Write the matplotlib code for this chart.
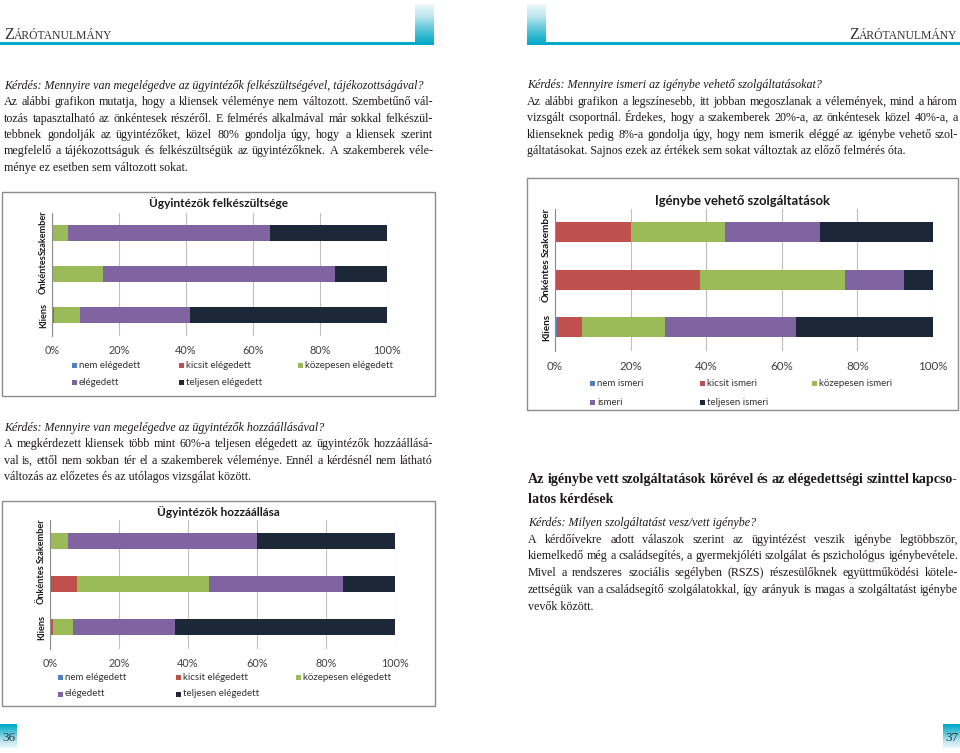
import numpy as np
import matplotlib
matplotlib.use('Agg')
import matplotlib.pyplot as plt
from matplotlib import font_manager
from matplotlib.patches import Rectangle
from matplotlib.colors import LinearSegmentedColormap

W, H = 960, 753

groups = ['Kliens', 'Önkéntes', 'Szakember']
colors = ['#4F81BD', '#C0504D', '#9BBB59', '#8064A2', '#1C2837']

# Ügyintézők felkészültsége (%), order: Kliens, Önkéntes, Szakember
elegedett_labels = ['nem elégedett', 'kicsit elégedett', 'közepesen elégedett', 'elégedett', 'teljesen elégedett']
felk_nem = [0.0, 0.0, 0.0]
felk_kicsit = [0.7, 0.0, 0.0]
felk_kozepes = [7.6, 15.3, 4.8]
felk_eleg = [32.8, 69.3, 60.2]
felk_teljes = [58.9, 15.4, 35.0]

# Igénybe vehető szolgáltatások (%)
ismeri_labels = ['nem ismeri', 'kicsit ismeri', 'közepesen ismeri', 'ismeri', 'teljesen ismeri']
igeny_nem = [0.4, 0.0, 0.0]
igeny_kicsit = [6.7, 38.4, 20.1]
igeny_kozepes = [21.9, 38.4, 24.9]
igeny_ism = [34.8, 15.5, 25.0]
igeny_teljes = [36.2, 7.7, 30.0]

# Ügyintézők hozzáállása (%)
hozz_nem = [0.0, 0.0, 0.0]
hozz_kicsit = [1.0, 7.8, 0.0]
hozz_kozepes = [5.8, 38.4, 5.2]
hozz_eleg = [29.4, 38.6, 54.8]
hozz_teljes = [63.8, 15.2, 40.0]

ticks = [0, 20, 40, 60, 80, 100]

# page text
text_felk = [
    'Kérdés: Mennyire van megelégedve az ügyintézők felkészültségével, tájékozottságával?',
    'Az alábbi grafikon mutatja, hogy a kliensek véleménye nem változott. Szembetűnő vál-',
    'tozás tapasztalható az önkéntesek részéről. E felmérés alkalmával már sokkal felkészül-',
    'tebbnek gondolják az ügyintézőket, közel 80% gondolja úgy, hogy a kliensek szerint',
    'megfelelő a tájékozottságuk és felkészültségük az ügyintézőknek. A szakemberek véle-',
    'ménye ez esetben sem változott sokat.',
]
text_igeny = [
    'Kérdés: Mennyire ismeri az igénybe vehető szolgáltatásokat?',
    'Az alábbi grafikon a legszínesebb, itt jobban megoszlanak a vélemények, mind a három',
    'vizsgált csoportnál. Érdekes, hogy a szakemberek 20%-a, az önkéntesek közel 40%-a, a',
    'klienseknek pedig 8%-a gondolja úgy, hogy nem ismerik eléggé az igénybe vehető szol-',
    'gáltatásokat. Sajnos ezek az értékek sem sokat változtak az előző felmérés óta.',
]
text_hozz = [
    'Kérdés: Mennyire van megelégedve az ügyintézők hozzáállásával?',
    'A megkérdezett kliensek több mint 60%-a teljesen elégedett az ügyintézők hozzáállásá-',
    'val is, ettől nem sokban tér el a szakemberek véleménye. Ennél a kérdésnél nem látható',
    'változás az előzetes és az utólagos vizsgálat között.',
]
heading = ['Az igénybe vett szolgáltatások körével és az elégedettségi szinttel kapcso-',
           'latos kérdések']
text_milyen = [
    'Kérdés: Milyen szolgáltatást vesz/vett igénybe?',
    'A kérdőívekre adott válaszok szerint az ügyintézést veszik igénybe legtöbbször,',
    'kiemelkedő még a családsegítés, a gyermekjóléti szolgálat és pszichológus igénybevétele.',
    'Mivel a rendszeres szociális segélyben (RSZS) részesülőknek együttműködési kötele-',
    'zettségük van a családsegítő szolgálatokkal, így arányuk is magas a szolgáltatást igénybe',
    'vevők között.',
]

fig = plt.figure(figsize=(9.6, 7.53), dpi=100)
pg = fig.add_axes([0, 0, 1, 1])
pg.set_xlim(0, W)
pg.set_ylim(H, 0)
pg.axis('off')
renderer = fig.canvas.get_renderer()

SERIF = 'Liberation Serif'
SANS = 'Lato'
installed = {f.name for f in font_manager.fontManager.ttflist}
NARROW = 'Liberation Sans Narrow' if 'Liberation Sans Narrow' in installed else SANS
INK = '#1E1A1B'
TEAL = '#00A9C8'


def word_widths(words, **kw):
    objs = [pg.text(0, 0, w, **kw) for w in words]
    widths = [o.get_window_extent(renderer).width for o in objs]
    for o in objs:
        o.remove()
    return widths


def fit_size(lines, width, size, **kw):
    # largest size (<= size) at which every justified line keeps a normal word gap
    scale = 1.0
    for line in lines:
        words = line.split(' ')
        total = sum(word_widths(words, family=SERIF, size=size, **kw)) + (len(words) - 1) * size * 0.32
        scale = min(scale, width / total)
    return size * scale


def put_line(text, x0, x1, y, size, justify=True, **kw):
    kw.setdefault('family', SERIF)
    kw.setdefault('color', INK)
    words = text.split(' ')
    if not justify or len(words) < 2:
        pg.text(x0, y, text, va='baseline', size=size, **kw)
        return
    objs = [pg.text(0, y, w, va='baseline', size=size, **kw) for w in words]
    widths = [o.get_window_extent(renderer).width for o in objs]
    gap = (x1 - x0 - sum(widths)) / (len(words) - 1)
    x = x0
    for o, w in zip(objs, widths):
        o.set_x(x)
        x += w + gap


def paragraph(lines, x0, x1, y0, dy, size):
    for i, line in enumerate(lines):
        style = 'italic' if i == 0 else 'normal'
        last = (i == len(lines) - 1) or i == 0
        put_line(line, x0, x1, y0 + i * dy, size, justify=not last, style=style)


def header(x, y, right=False):
    big = pg.text(0, y, 'Z', family=SERIF, size=11.5, color='#333333', va='baseline')
    small = pg.text(0, y, 'ÁRÓTANULMÁNY', family=SERIF, size=8.4, color='#333333', va='baseline')
    wb = big.get_window_extent(renderer).width
    ws = small.get_window_extent(renderer).width
    x0 = x - wb - ws if right else x
    big.set_x(x0)
    small.set_x(x0 + wb)


tealmap = LinearSegmentedColormap.from_list('teal', ['#FFFFFF', '#BFE6EF', TEAL])
grad = (np.linspace(0.0, 1.0, 60) ** 0.6)[:, None]

# header bars
pg.add_patch(Rectangle((0, 42), 416, 3, color=TEAL, lw=0))
pg.add_patch(Rectangle((545, 42), W - 545, 3, color=TEAL, lw=0))
pg.imshow(grad, cmap=tealmap, extent=(415, 434, 45, 3), aspect='auto', origin='upper')
pg.imshow(grad, cmap=tealmap, extent=(527, 546, 45, 3), aspect='auto', origin='upper')
header(4, 39)
header(957, 39, right=True)

# page numbers
for x0, num in [(0, '36'), (943, '37')]:
    pg.imshow(grad[::-1], cmap=tealmap, extent=(x0, x0 + 17, 749, 724), aspect='auto', origin='upper')
    pg.text(x0 + 8.5, 741, num, family=SERIF, size=9.5, color='#2B3A42', ha='center', va='baseline')

pg.set_xlim(0, W)
pg.set_ylim(H, 0)

# body text, one size for the whole spread
justified = (text_felk[1:-1] + text_igeny[1:-1] + text_hozz[1:-1] + text_milyen[1:-1])
BODY = fit_size(justified, 430, 9.4)
HEAD = fit_size(heading[:1], 430, 11.2, weight='bold')

paragraph(text_felk, 4, 433, 89, 16.3, BODY)
paragraph(text_igeny, 527, 958, 88, 16.6, BODY)
paragraph(text_hozz, 4, 433, 431, 16.3, BODY)
put_line(heading[0], 528, 958, 483, HEAD, weight='bold')
put_line(heading[1], 528, 958, 503, HEAD, justify=False, weight='bold')
paragraph(text_milyen, 528, 958, 526, 16.7, BODY)


def bar_chart(box, plot, title, title_y, series, labels, bar_h, leg_x, leg_y, fs):
    bx0, by0, bx1, by1 = box
    pg.add_patch(Rectangle((bx0, by0), bx1 - bx0, by1 - by0, fill=False,
                           edgecolor='#8C8C8C', lw=1.0))
    px0, px1, pyt, pyb = plot
    ax = fig.add_axes([px0 / W, 1 - pyb / H, (px1 - px0) / W, (pyb - pyt) / H])
    ax.patch.set_alpha(0)
    y = np.arange(len(groups))
    left = np.zeros(len(groups))
    for vals, col, lab in zip(series, colors, labels):
        ax.barh(y, vals, left=left, height=bar_h, color=col, label=lab, zorder=3)
        left += np.array(vals)
    ax.set_xlim(0, 100)
    ax.set_ylim(-0.5, 2.5)
    ax.set_xticks(ticks)
    ax.set_xticklabels(['%d%%' % t for t in ticks], family=SANS, size=fs['tick'], color='#404040')
    ax.set_yticks(y)
    cat_size = fs['cat'] if NARROW != SANS else fs['cat'] * 0.8
    ax.set_yticklabels(groups, rotation=90, va='center', family=NARROW, size=cat_size,
                       color='#1A1A1A', weight='bold')
    ax.tick_params(axis='x', length=0, pad=7)
    ax.tick_params(axis='y', length=0, pad=3)
    ax.grid(axis='x', color='#BFBFBF', lw=0.8, zorder=0)
    for s in ['top', 'right', 'bottom']:
        ax.spines[s].set_visible(False)
    ax.spines['left'].set_color('#8C8C8C')
    ax.spines['left'].set_zorder(4)
    pg.text((bx0 + bx1) / 2, title_y, title, family=SANS, weight='bold', size=fs['title'],
            color='#1A1A1A', ha='center', va='center')
    # legend laid out like Excel: three entries in the first row, two in the second
    for i, (lab, col) in enumerate(zip(labels, colors)):
        lx = leg_x[i % 3]
        ly = leg_y[i // 3]
        pg.add_patch(Rectangle((lx, ly - 2.5), 5, 5, color=col, lw=0))
        pg.text(lx + 7, ly, lab, family=SANS, size=fs['leg'], color='#333333', va='center')


small_fs = {'tick': 7.8, 'cat': 8.2, 'title': 8.6, 'leg': 7.0}
big_fs = {'tick': 8.4, 'cat': 9.0, 'title': 9.4, 'leg': 7.0}

bar_chart((2, 192, 435, 396), (52, 387, 212.5, 335.5), 'Ügyintézők felkészültsége', 203,
          [felk_nem, felk_kicsit, felk_kozepes, felk_eleg, felk_teljes], elegedett_labels,
          0.40, [72, 179, 298], [365, 382], small_fs)

bar_chart((527, 178, 958, 410), (555, 933, 208.5, 351), 'Igénybe vehető szolgáltatások', 201,
          [igeny_nem, igeny_kicsit, igeny_kozepes, igeny_ism, igeny_teljes], ismeri_labels,
          0.42, [590, 700, 812], [383, 402], big_fs)

bar_chart((2, 501, 435, 706), (50, 395, 519.5, 648.5), 'Ügyintézők hozzáállása', 512,
          [hozz_nem, hozz_kicsit, hozz_kozepes, hozz_eleg, hozz_teljes], elegedett_labels,
          0.38, [58, 176, 296], [677, 694], small_fs)

fig.savefig('out.png', dpi=100)
